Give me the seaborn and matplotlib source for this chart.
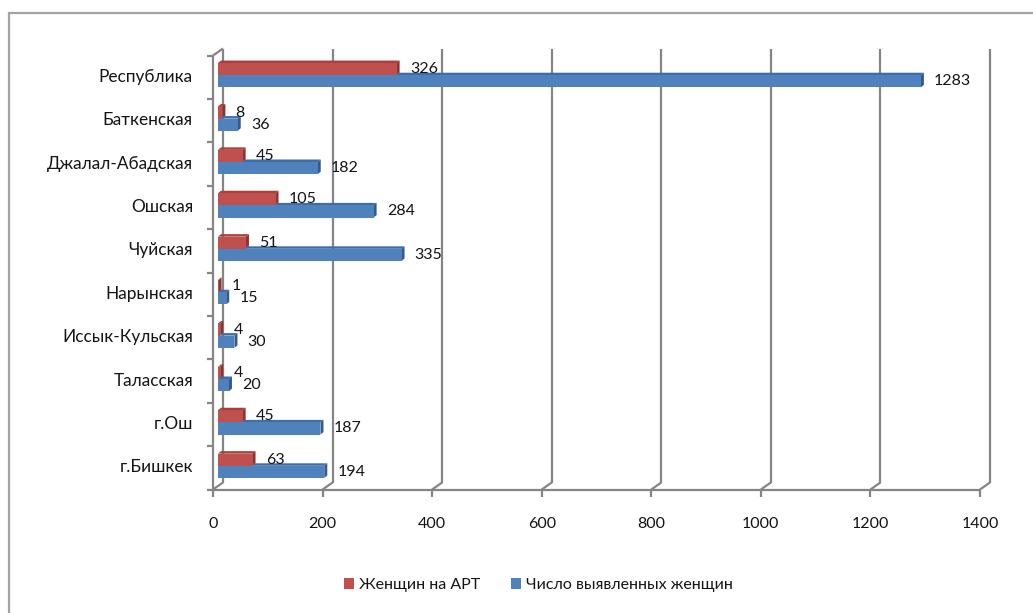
import matplotlib
matplotlib.use("Agg")
import matplotlib.pyplot as plt
import matplotlib.transforms as mtransforms
from matplotlib.patches import Polygon, Rectangle
from matplotlib.lines import Line2D
import pandas as pd
import seaborn as sns

# ---- data -------------------------------------------------------------
regions = ["Республика", "Баткенская", "Джалал-Абадская", "Ошская", "Чуйская",
           "Нарынская", "Иссык-Кульская", "Таласская", "г.Ош", "г.Бишкек"]
women_on_art = [326, 8, 45, 105, 51, 1, 4, 4, 45, 63]
women_detected = [1283, 36, 182, 284, 335, 15, 30, 20, 187, 194]
series_names = ["Женщин на АРТ", "Число выявленных женщин"]
x_ticks = [0, 200, 400, 600, 800, 1000, 1200, 1400]

df = pd.DataFrame({
    "Регион": regions * 2,
    "Серия": [series_names[0]] * len(regions) + [series_names[1]] * len(regions),
    "Число": women_on_art + women_detected,
})

# ---- style ------------------------------------------------------------
sns.set_theme(style="white")
plt.rcParams["font.family"] = ["Lato", "DejaVu Sans"]
TEXT = "#141414"
GRID = "#858585"
FS = 11.5
FS_CAT = 12.4
front_col = {series_names[0]: "#C0504D", series_names[1]: "#4F81BD"}
top_col = {series_names[0]: "#A8403D", series_names[1]: "#3F6EA6"}
end_col = {series_names[0]: "#8C3431", series_names[1]: "#34598A"}

DPI = 100
W, H = 1033, 613
fig = plt.figure(figsize=(W / DPI, H / DPI), dpi=DPI)
fig.patch.set_facecolor("white")

# bar plane sits inside the 3-D depth of the chart box
AX_L, AX_R, AX_T, AX_B = 218, 985, 53.5, 487.5
ax = fig.add_axes([AX_L / W, 1 - AX_B / H, (AX_R - AX_L) / W, (AX_B - AX_T) / H])

sns.barplot(data=df, y="Регион", x="Число", hue="Серия", order=regions,
            hue_order=series_names, palette=front_col, orient="h", width=0.56,
            saturation=1, linewidth=0, legend=False, ax=ax, zorder=2)

XMAX = 1400
ax.set_xlim(0, XMAX)
ax.set_ylim(len(regions) - 0.5, -0.5)
for s in ax.spines.values():
    s.set_visible(False)
ax.set_xlabel("")
ax.set_ylabel("")
ax.set_xticks(x_ticks)
ax.tick_params(axis="x", length=0, labelbottom=False)
ax.tick_params(axis="y", length=0, pad=18, labelsize=FS_CAT, labelcolor=TEXT)
ax.grid(False)

px_per_x = (AX_R - AX_L) / XMAX          # pixels per data unit along x
ax_h_px = AX_B - AX_T
px_per_cat = ax_h_px / len(regions)

# offsets of the front and back walls from the bar plane (pixels)
F_DX, F_DY = 5.0, 2.0
B_DX, B_DY = 5.0, 5.0
fdx, fdy = F_DX / px_per_x, F_DY / ax_h_px
bdx, bdy = B_DX / px_per_x, B_DY / ax_h_px

blend = mtransforms.blended_transform_factory(ax.transData, ax.transAxes)

def seg(x0, y0, x1, y1, z=0.5):
    ax.add_line(Line2D([x0, x1], [y0, y1], transform=blend, color=GRID,
                       lw=1.6, clip_on=False, zorder=z, solid_capstyle="butt"))

# back wall gridlines with their diagonal foot to the front axis
for xv in x_ticks:
    seg(xv + bdx, bdy, xv + bdx, 1 + bdy)
    seg(xv + bdx, bdy, xv - fdx, -fdy)
    # tick mark below the front axis
    seg(xv - fdx, -fdy, xv - fdx, -fdy - 7 / ax_h_px)
    ax.text(xv - fdx, -fdy - 35 / ax_h_px, f"{xv}", transform=blend,
            ha="center", va="center", fontsize=FS, color=TEXT)

# front horizontal axis
seg(-fdx, -fdy, XMAX - fdx, -fdy)
# left wall: front edge, top diagonal, category boundary ticks
seg(-fdx, -fdy, -fdx, 1 - fdy)
seg(-fdx, 1 - fdy, bdx, 1 + bdy)
tick_dx = 6 / px_per_x
for k in range(len(regions) + 1):
    yk = 1 - k / len(regions) - fdy
    seg(-fdx - tick_dx, yk, -fdx, yk)

# 3-D top and end faces of each bar
BDX = 3.0 / px_per_x
BDY = 2.5 / px_per_cat
for cont, name in zip(ax.containers, series_names):
    for p in cont.patches:
        x0, y0, w, h = p.get_x(), p.get_y(), p.get_width(), p.get_height()
        x1 = x0 + w
        top = Polygon([(x0, y0), (x0 + BDX, y0 - BDY), (x1 + BDX, y0 - BDY), (x1, y0)],
                      closed=True, facecolor=top_col[name], edgecolor="none", zorder=1.5)
        end = Polygon([(x1, y0), (x1 + BDX, y0 - BDY), (x1 + BDX, y0 + h - BDY), (x1, y0 + h)],
                      closed=True, facecolor=end_col[name], edgecolor="none", zorder=1.5)
        ax.add_patch(top)
        ax.add_patch(end)
    ax.bar_label(cont, fmt="{:.0f}", padding=9.5, fontsize=FS, color=TEXT)

# legend below the chart
handles = [Rectangle((0, 0), 1, 1, facecolor=front_col[n], edgecolor="none") for n in series_names]
fig.legend(handles, series_names, loc="center", bbox_to_anchor=(0.521, 0.046), ncol=2,
           frameon=False, handlelength=0.65, handleheight=0.65, handletextpad=0.3,
           columnspacing=1.9, fontsize=FS, labelcolor=TEXT)

# outer chart frame
fig.patches.append(Rectangle((9 / W, -0.1), 1.2, 1 - 13 / H + 0.1, transform=fig.transFigure,
                             fill=False, edgecolor="#a3a3a3", lw=1.6))

fig.savefig("out.png", dpi=DPI, facecolor="white")
